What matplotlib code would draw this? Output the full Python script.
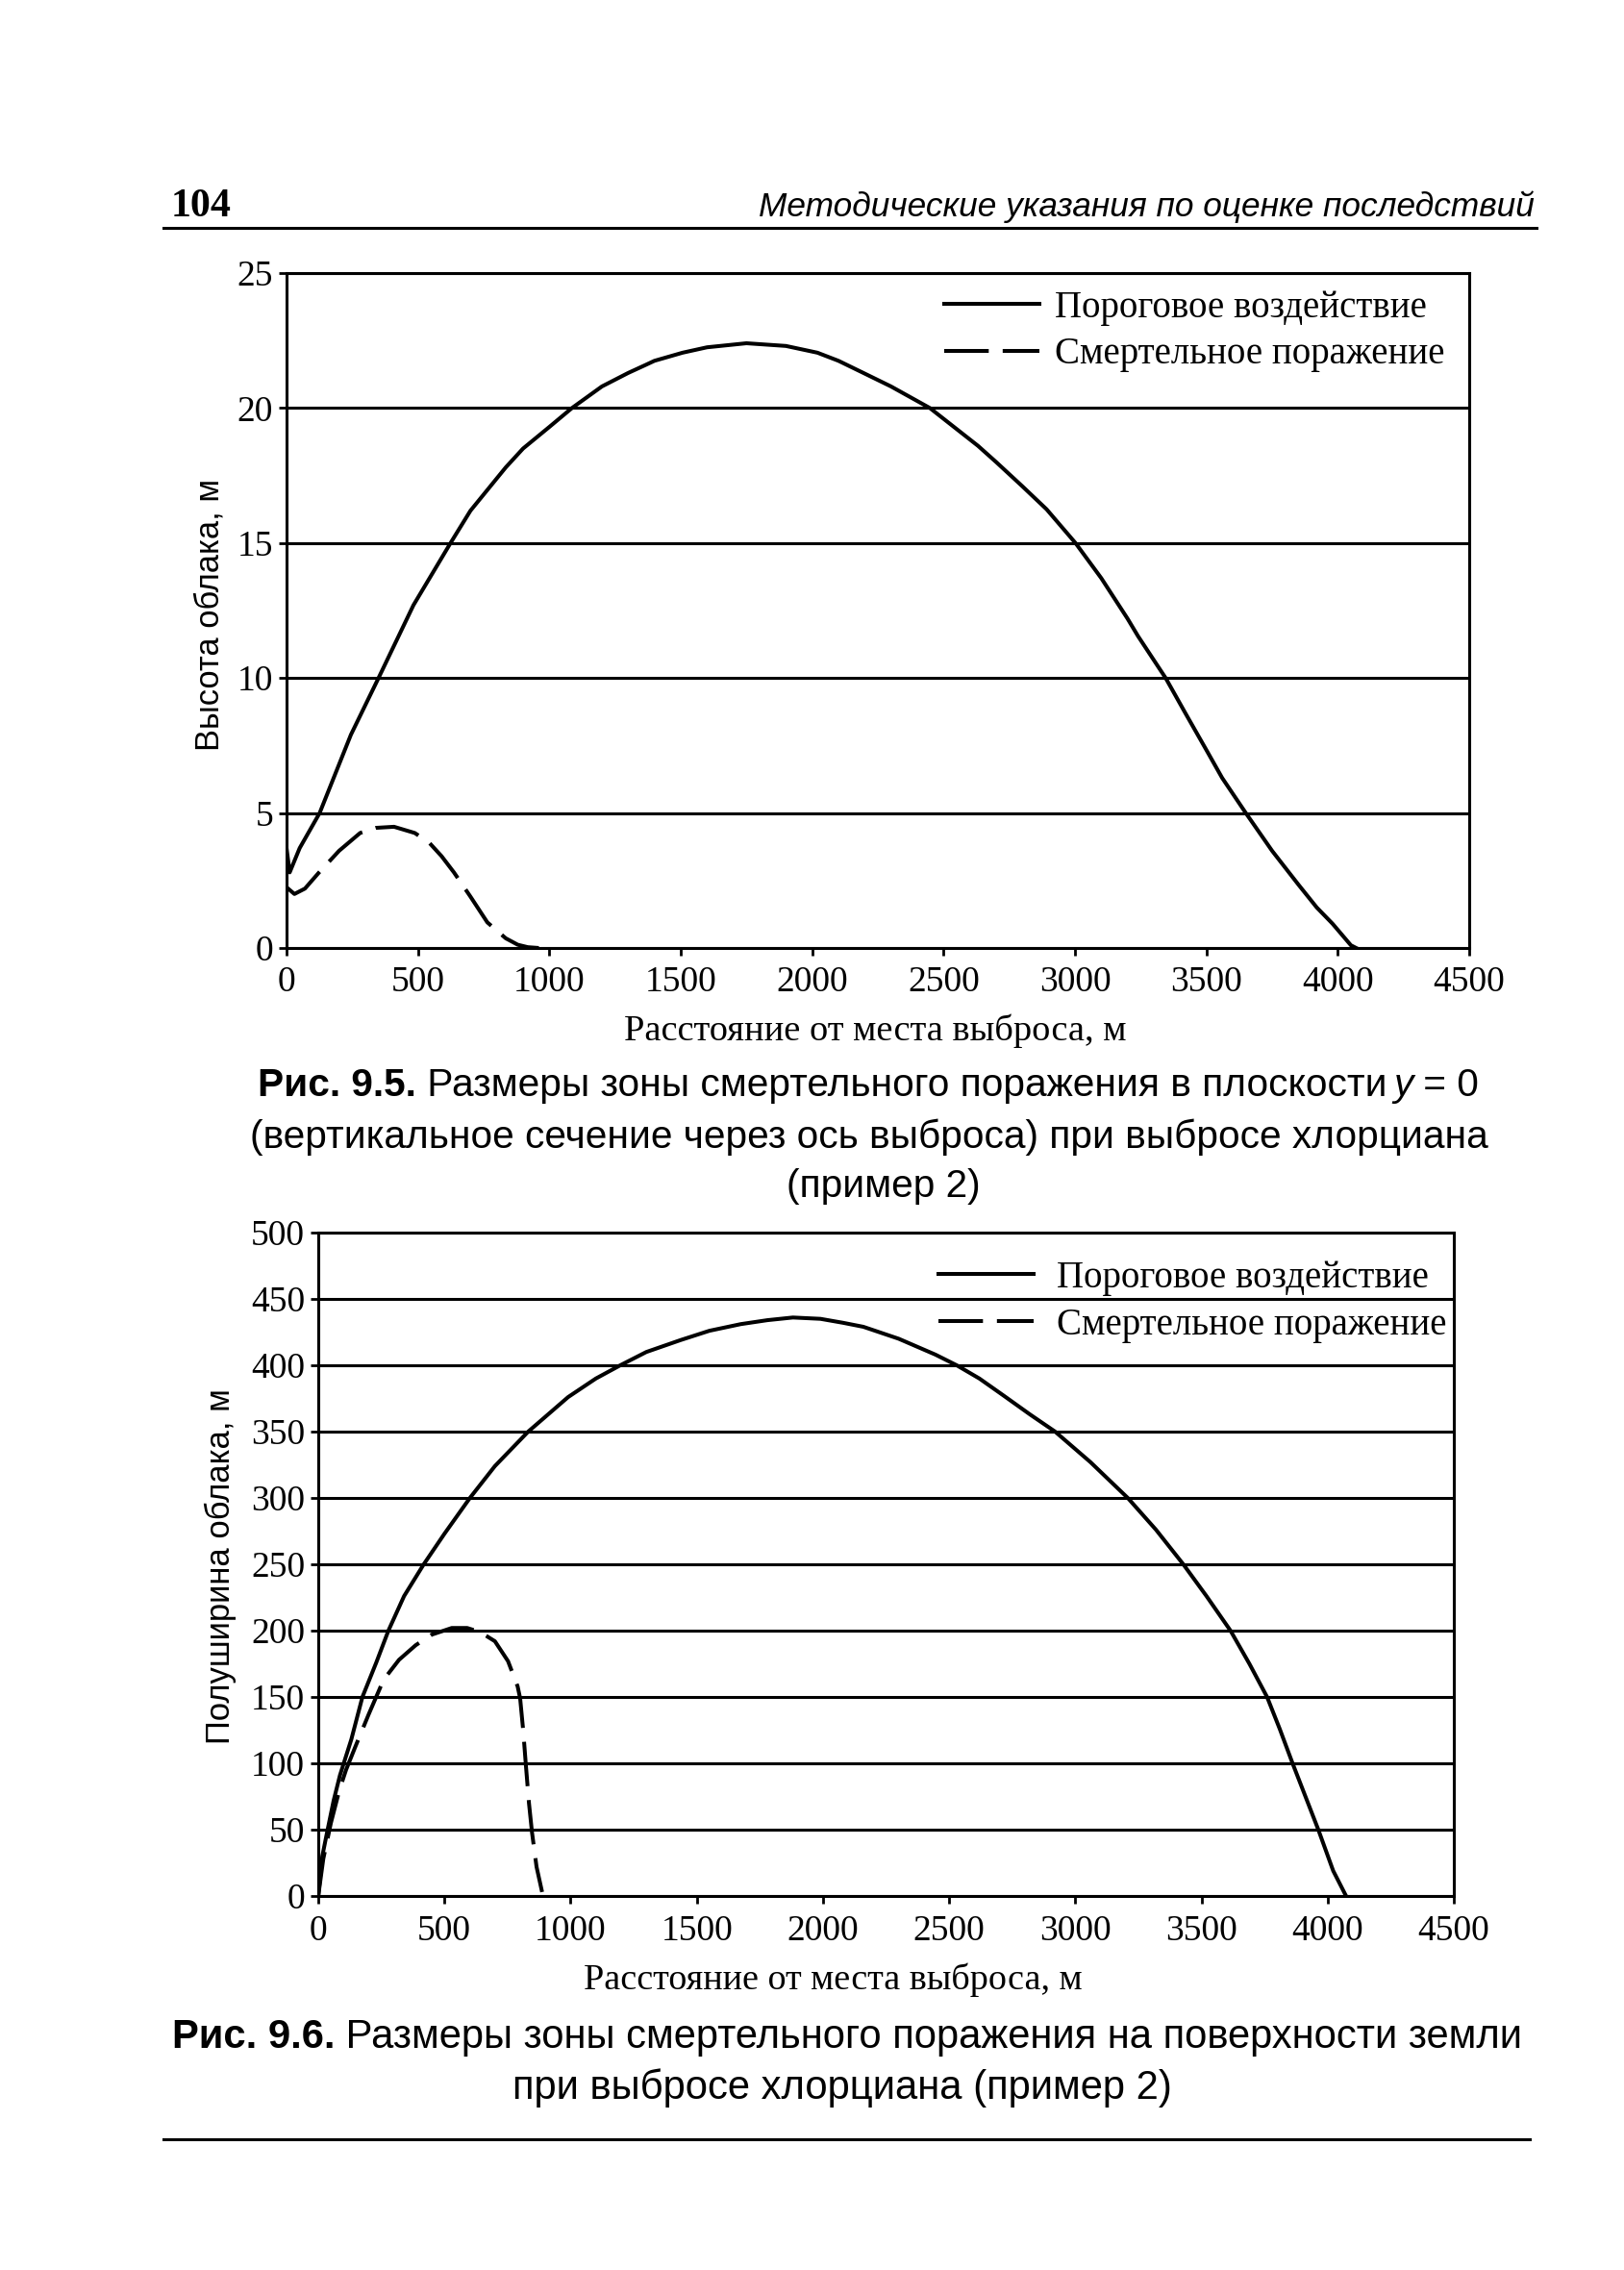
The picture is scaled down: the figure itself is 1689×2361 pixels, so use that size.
import matplotlib
matplotlib.use('Agg')
import matplotlib.pyplot as plt

# ---------------- data ----------------
# Fig 9.5 : cloud height vs distance
height_threshold_x = [0, 12, 50, 126, 245, 350, 483, 624, 700, 834, 900, 1000, 1086, 1200, 1300, 1367,
                      1400, 1507, 1600, 1750, 1900, 2020, 2100, 2195, 2300, 2448, 2631, 2700, 2800,
                      2892, 3002, 3100, 3200, 3240, 3345, 3420, 3502, 3560, 3650, 3750, 3850, 3920,
                      3980, 4050, 4070]
height_threshold_y = [3.7, 2.8, 3.7, 5.0, 7.9, 10.0, 12.7, 15.0, 16.2, 17.8, 18.5, 19.3, 20.0, 20.8, 21.3,
                      21.6, 21.75, 22.05, 22.25, 22.4, 22.3, 22.05, 21.75, 21.3, 20.8, 20.0, 18.6, 18.0,
                      17.1, 16.25, 15.0, 13.7, 12.2, 11.55, 10.0, 8.7, 7.3, 6.3, 5.0, 3.6, 2.35, 1.5,
                      0.9, 0.1, 0.0]
height_lethal_x = [0, 30, 70, 122, 200, 280, 340, 409, 488, 543, 590, 637, 700, 764, 834, 880, 918, 960]
height_lethal_y = [2.25, 2.0, 2.2, 2.78, 3.6, 4.26, 4.45, 4.49, 4.26, 3.9, 3.4, 2.8, 1.9, 0.95, 0.36, 0.12,
                   0.03, 0.0]

# Fig 9.6 : cloud half-width vs distance
width_threshold_x = [0, 16, 36, 61, 86, 131, 175, 230, 278, 340, 418, 500, 601, 700, 832, 990, 1100,
                     1197, 1300, 1436, 1550, 1674, 1780, 1881, 1990, 2080, 2160, 2300, 2446, 2530,
                     2620, 2717, 2820, 2920, 3060, 3208, 3320, 3428, 3520, 3615, 3690, 3760, 3810,
                     3861, 3910, 3963, 4022, 4073]
width_threshold_y = [0, 30, 49, 72, 91, 118, 150, 176, 200, 226, 250, 273, 300, 324, 350, 376, 390,
                     400, 410, 419, 426, 431, 434, 436, 435, 432, 429, 420, 408, 400,
                     390, 377, 363, 350, 327, 300, 276, 250, 226, 200, 175, 150, 126,
                     100, 76, 50, 19, 0]
width_lethal_x = [0, 20, 50, 84, 110, 148, 200, 259, 320, 386, 450, 529, 590, 641, 700, 752, 790,
                  800, 812, 823, 835, 847, 865, 887]
width_lethal_y = [0, 28, 55, 80, 95, 113, 137, 163, 178, 189, 197, 202, 202, 199, 192, 177, 158,
                  149, 125, 98, 70, 48, 22, 3]

x_ticks = [0, 500, 1000, 1500, 2000, 2500, 3000, 3500, 4000, 4500]
height_ticks = [0, 5, 10, 15, 20, 25]
width_ticks = [0, 50, 100, 150, 200, 250, 300, 350, 400, 450, 500]

label_threshold = 'Пороговое воздействие'
label_lethal = 'Смертельное поражение'
xlabel = 'Расстояние от места выброса, м'
ylabel_top = 'Высота облака, м'
ylabel_bottom = 'Полуширина облака, м'

# ---------------- figure ----------------
W, H = 1689, 2361
DPI = 100
fig = plt.figure(figsize=(W / DPI, H / DPI), dpi=DPI)
fig.patch.set_facecolor('white')
renderer = fig.canvas.get_renderer()

SERIF = ['Liberation Serif', 'DejaVu Serif']
SANS = ['Liberation Sans', 'DejaVu Sans']


def fx(px):
    return px / W


def fy(py):
    return 1 - py / H


def axes_px(left, top, right, bottom):
    return fig.add_axes([fx(left), fy(bottom), (right - left) / W, (bottom - top) / H])


LW = 2.9
DASH = (0, (11.5, 3.6))


def style_axes(ax, yticks, ymax, ypad, xpad):
    ax.set_xlim(0, 4500)
    ax.set_ylim(0, ymax)
    ax.set_xticks(x_ticks)
    ax.set_yticks(yticks)
    ax.set_xticklabels([str(v) for v in x_ticks], family=SERIF, fontsize=27)
    ax.set_yticklabels([str(v) for v in yticks], family=SERIF, fontsize=27)
    ax.tick_params(axis='both', direction='out', length=6, width=2, color='black')
    ax.tick_params(axis='y', pad=ypad)
    ax.tick_params(axis='x', pad=xpad)
    for s in ax.spines.values():
        s.set_linewidth(2.2)
        s.set_color('black')
    ax.yaxis.grid(True, color='black', linewidth=2.2)
    ax.set_axisbelow(True)


legend_kw = dict(frameon=False, prop={'family': SERIF, 'size': 28}, handlelength=2.55,
                 labelspacing=0.3, borderpad=0, borderaxespad=0, loc='upper left')

# ---- top chart ----
ax1 = axes_px(298, 284, 1528, 986)
ax1.plot(height_threshold_x, height_threshold_y, color='black', lw=LW, solid_joinstyle='round',
         label=label_threshold)
ax1.plot(height_lethal_x, height_lethal_y, color='black', lw=LW, linestyle=DASH, label=label_lethal)
style_axes(ax1, height_ticks, 25, 4, 7)
ax1.legend(bbox_to_anchor=(0.556, 0.975), handletextpad=0.42, **legend_kw)

# ---- bottom chart ----
ax2 = axes_px(331, 1282, 1512, 1972)
ax2.plot(width_threshold_x, width_threshold_y, color='black', lw=LW, solid_joinstyle='round',
         label=label_threshold)
ax2.plot(width_lethal_x, width_lethal_y, color='black', lw=LW, linestyle=DASH, label=label_lethal)
style_axes(ax2, width_ticks, 500, 4, 8)
ax2.legend(bbox_to_anchor=(0.546, 0.958), handletextpad=0.62, **legend_kw)


# ---------------- text helpers ----------------
def fit_text(x, y, s, target, size=30, rotation=0, **kw):
    t = fig.text(fx(x), fy(y), s, fontsize=size, rotation=rotation, **kw)
    bb = t.get_window_extent(renderer)
    cur = bb.height if rotation else bb.width
    t.set_fontsize(size * target / cur)
    return t


def caption_line(segments, x0, x1, yc):
    """segments: list of (text, weight, style); fitted to span x0..x1."""
    s0 = 30
    texts, widths = [], []
    for txt, weight, style in segments:
        t = fig.text(0, 0, txt, family=SANS, fontweight=weight, style=style, fontsize=s0, va='center')
        texts.append(t)
        widths.append(t.get_window_extent(renderer).width)
    k = (x1 - x0) / sum(widths)
    pos = x0
    for t, w in zip(texts, widths):
        t.set_fontsize(s0 * k)
        t.set_position((fx(pos), fy(yc)))
        pos += w * k
    return s0 * k


# header
fit_text(178, 215, '104', 63, family=SERIF, fontweight='bold', ha='left', va='center')
fit_text(1596, 215, 'Методические указания по оценке последствий', 806, family=SANS,
         style='italic', ha='right', va='center')
fig.add_artist(plt.Line2D([fx(170), fx(1598)], [fy(237), fy(237)], color='black', lw=2.2))

# axis labels
fit_text(218, 639, ylabel_top, 283, rotation=90, family=SANS, ha='center', va='center')
fit_text(910, 1072, xlabel, 521, family=SERIF, ha='center', va='center')
fit_text(229, 1629, ylabel_bottom, 369, rotation=90, family=SANS, ha='center', va='center')
fit_text(866, 2059, xlabel, 519, family=SERIF, ha='center', va='center')

# captions
cs = caption_line([('Рис. 9.5.', 'bold', 'normal'),
                   (' Размеры зоны смертельного поражения в плоскости ', 'normal', 'normal'),
                   ('y', 'normal', 'italic'),
                   (' = 0', 'normal', 'normal')], 268, 1538, 1129)
fig.text(fx(904), fy(1183), '(вертикальное сечение через ось выброса) при выбросе хлорциана',
         family=SANS, fontsize=cs, ha='center', va='center')
fig.text(fx(919), fy(1234), '(пример 2)', family=SANS, fontsize=cs, ha='center', va='center')

cs2 = caption_line([('Рис. 9.6.', 'bold', 'normal'),
                    (' Размеры зоны смертельного поражения на поверхности земли', 'normal', 'normal')],
                   179, 1581, 2119)
fig.text(fx(876), fy(2172), 'при выбросе хлорциана (пример 2)', family=SANS, fontsize=cs2,
         ha='center', va='center')
fig.add_artist(plt.Line2D([fx(170), fx(1591)], [fy(2225), fy(2225)], color='black', lw=2.2))

fig.savefig('out.png', dpi=DPI, facecolor='white')
